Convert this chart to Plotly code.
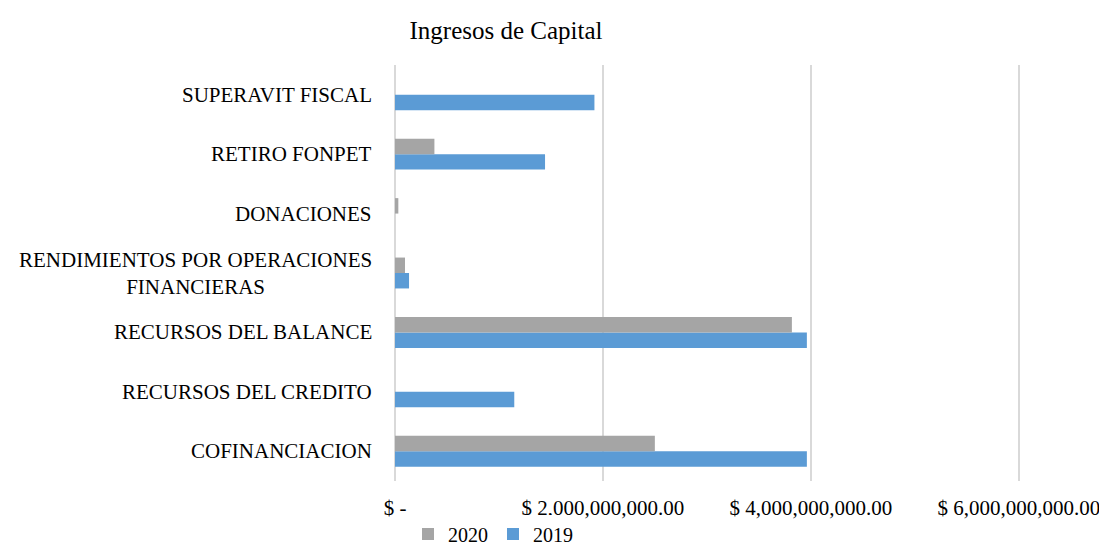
import plotly.graph_objects as go

categories = ["COFINANCIACION", "RECURSOS DEL CREDITO", "RECURSOS DEL BALANCE",
              "RENDIMIENTOS POR OPERACIONES<br>FINANCIERAS", "DONACIONES",
              "RETIRO FONPET", "SUPERAVIT FISCAL"]
values_2020 = [2.499e9, 0, 3.817e9, 0.096e9, 0.032e9, 0.379e9, 0]
values_2019 = [3.961e9, 1.147e9, 3.961e9, 0.135e9, 0, 1.443e9, 1.918e9]
tick_vals = [0, 2e9, 4e9, 6e9]
tick_text = ["$ -", "$ 2,000,000,000.00", "$ 4,000,000,000.00", "$ 6,000,000,000.00"]
title_text = "Ingresos de Capital"

FONT = "Liberation Serif"
W, H = 1099, 538  # page body has an 8px default margin

fig = go.Figure()
fig.add_trace(go.Bar(y=categories, x=values_2019, orientation="h", name="2019",
                     marker=dict(color="#5B9BD5", line=dict(width=0)), legendrank=2))
fig.add_trace(go.Bar(y=categories, x=values_2020, orientation="h", name="2020",
                     marker=dict(color="#A5A5A5", line=dict(width=0)), legendrank=1))

for c in categories:
    fig.add_annotation(text=c, xref="paper", x=0, y=c, yref="y", xanchor="right",
                       xshift=-21, align="center", showarrow=False,
                       font=dict(family=FONT, size=21, color="#000000"))

fig.update_layout(
    width=W, height=H,
    margin=dict(l=387, r=85, t=57, b=65, autoexpand=False),
    paper_bgcolor="white", plot_bgcolor="white",
    barmode="group", bargap=0.48, bargroupgap=0,
    font=dict(family=FONT, size=21, color="#000000"),
    title=dict(text=title_text, x=498 / W, xanchor="center", y=1 - 22 / H, yanchor="middle",
               xref="container", yref="container", automargin=False,
               font=dict(family=FONT, size=25, color="#000000")),
    legend=dict(orientation="h", x=485 / W, xanchor="center", xref="container",
                y=1 - 526 / H, yanchor="middle", yref="container",
                font=dict(family=FONT, size=20), itemwidth=30, traceorder="normal"),
    showlegend=True,
)
fig.update_xaxes(range=[0, 6.03e9], tickvals=tick_vals, ticktext=tick_text,
                 showgrid=True, gridcolor="#D9D9D9", gridwidth=2,
                 zeroline=True, zerolinecolor="#D9D9D9", zerolinewidth=2,
                 showline=False, ticks="", ticklabelstandoff=12, automargin=False,
                 tickfont=dict(family=FONT, size=21))
fig.update_yaxes(categoryorder="array", categoryarray=categories, automargin=False,
                 showticklabels=False, showgrid=False, zeroline=False, showline=False, ticks="")

fig.write_html("out.html")
